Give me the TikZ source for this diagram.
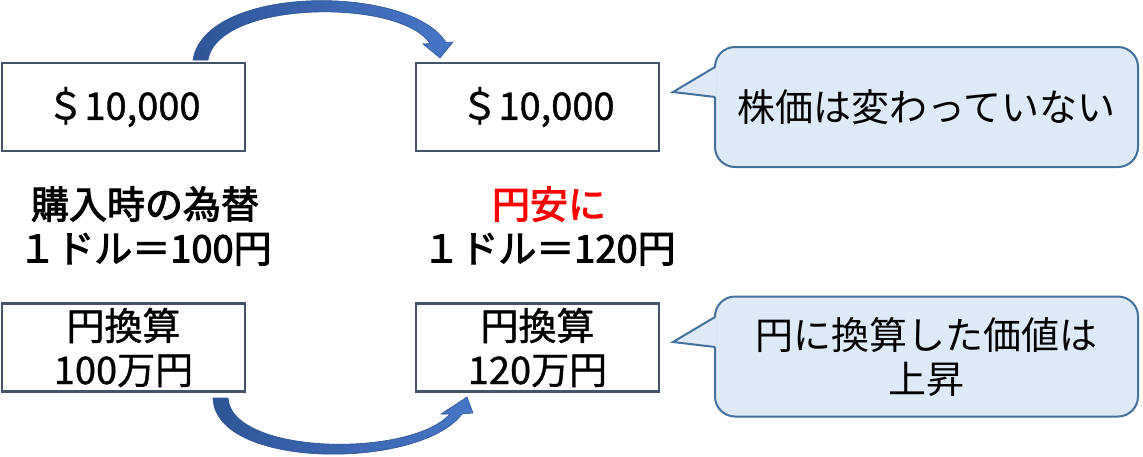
\documentclass[tikz,border=0pt]{standalone}
\usepackage{fontspec}
\setmainfont{Noto Sans CJK JP}
\newfontfamily\boxfont[FakeBold=1.0]{Noto Sans CJK JP}
\newfontfamily\ratefont[FakeBold=2.6]{Noto Sans CJK JP}
\definecolor{boxline}{RGB}{68,84,106}
\definecolor{notefill}{RGB}{222,235,247}
\definecolor{noteline}{RGB}{65,113,156}
\definecolor{arrowdark}{RGB}{47,85,151}
\definecolor{arrowlight}{RGB}{72,118,200}
\begin{document}
\begin{tikzpicture}[x=1pt, y=-1pt,
  box/.style={draw=boxline, line width=2.2pt, minimum width=243pt, minimum height=88pt, align=center, inner sep=0pt, font=\fontsize{38}{44}\boxfont},
  note/.style={draw=noteline, fill=notefill, line width=2pt, rounded corners=20pt, minimum width=423pt, minimum height=120pt, align=center, inner sep=0pt, font=\fontsize{38}{44}\selectfont},
  rate/.style={align=center, inner sep=0pt, font=\fontsize{38}{44}\ratefont},
  curvearrow/.style={draw=arrowdark, line width=0.6pt, left color=arrowdark, right color=arrowlight}]
\useasboundingbox (0,0) rectangle (1143,456);
\node[box] (usdL) at (123.5,107) {＄10,000};
\node[box] (usdR) at (537.5,107) {＄10,000};
\node[box] (jpyL) at (123.5,347.5) {円換算\\100万円};
\node[box] (jpyR) at (537.5,347.5) {円換算\\120万円};
\node[rate] (rateL) at (145,226) {購入時の為替\\１ドル＝100円};
\node[rate] (rateR) at (549,226) {\textcolor{red}{円安に}\\１ドル＝120円};
\node[note] (noteT) at (926.5,107) {\raisebox{-4pt}{株価は変わっていない}};
\node[note] (noteB) at (926.5,356.5) {円に換算した価値は\\上昇};
\fill[notefill] (716.5,67) -- (673,92) -- (716.5,97) -- cycle;
\draw[noteline, line width=2pt] (715,67) -- (673,92) -- (715,97);
\fill[notefill] (716.5,317) -- (673,342) -- (716.5,347) -- cycle;
\draw[noteline, line width=2pt] (715,317) -- (673,342) -- (715,347);
\path[curvearrow] (193,60) .. controls (205,-16) and (410,-16) .. (446,42.5) -- (453,42) -- (440,58) -- (423,44) -- (430,43.5) .. controls (400,-2) and (218,0) .. (208,60) -- cycle;
\path[curvearrow] (213,398) .. controls (215,470) and (420,470) .. (462,414) -- (473,413) -- (467,397) -- (441,414) -- (450,414) .. controls (410,458) and (232,455) .. (228,398) -- cycle;
\end{tikzpicture}
\end{document}
